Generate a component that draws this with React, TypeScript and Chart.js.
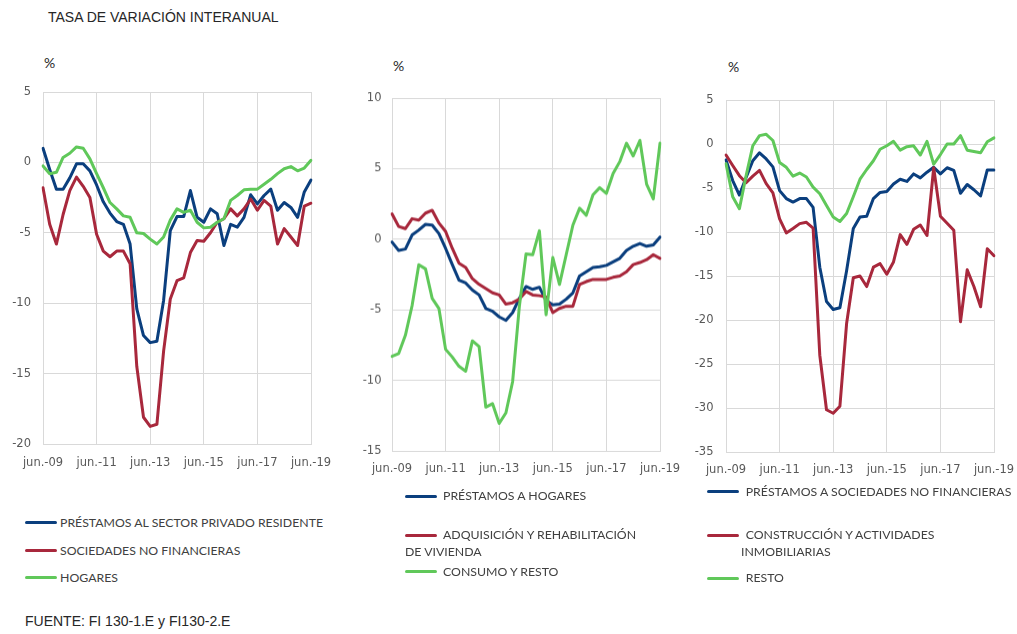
import React, { useEffect, useRef } from "react";
import { Chart, registerables } from "chart.js";

Chart.register(...registerables);

// Quarterly observations, June 2009 – June 2019
const quarters = [
  "jun.-09", "sep.-09", "dic.-09", "mar.-10",
  "jun.-10", "sep.-10", "dic.-10", "mar.-11",
  "jun.-11", "sep.-11", "dic.-11", "mar.-12",
  "jun.-12", "sep.-12", "dic.-12", "mar.-13",
  "jun.-13", "sep.-13", "dic.-13", "mar.-14",
  "jun.-14", "sep.-14", "dic.-14", "mar.-15",
  "jun.-15", "sep.-15", "dic.-15", "mar.-16",
  "jun.-16", "sep.-16", "dic.-16", "mar.-17",
  "jun.-17", "sep.-17", "dic.-17", "mar.-18",
  "jun.-18", "sep.-18", "dic.-18", "mar.-19",
  "jun.-19",
];

// Panel 1: total private resident sector
const privadoResidente = [
  1.0, -0.5, -1.9, -1.9, -1.1, -0.1, -0.1, -0.6, -1.6, -2.8,
  -3.6, -4.2, -4.4, -5.8, -10.4, -12.3, -12.8, -12.7, -9.8, -4.85,
  -3.85, -3.85, -2.0, -3.9, -4.25, -3.3, -3.65, -5.9, -4.4, -4.6,
  -3.9, -2.3, -2.95, -2.35, -1.9, -3.4, -2.85, -3.2, -3.9, -2.1,
  -1.25,
];
const sociedadesNoFinancieras = [
  -1.8, -4.4, -5.8, -3.7, -2.0, -1.05, -1.7, -2.5, -5.1, -6.3,
  -6.7, -6.3, -6.3, -7.2, -14.5, -18.1, -18.75, -18.6, -13.4, -9.7,
  -8.4, -8.2, -6.4, -5.55, -5.6, -5.0, -4.25, -4.0, -3.3, -3.8,
  -3.3, -2.6, -3.4, -2.7, -3.1, -5.8, -4.7, -5.3, -5.9, -3.1,
  -2.9,
];
const hogares = [
  -0.25, -0.8, -0.7, 0.35, 0.65, 1.1, 1.0, 0.25, -0.8, -1.8,
  -2.85, -3.3, -3.8, -3.9, -5.0, -5.05, -5.45, -5.8, -5.3, -4.1,
  -3.3, -3.55, -3.4, -4.25, -4.65, -4.6, -4.25, -4.0, -2.7, -2.35,
  -1.95, -1.9, -1.9, -1.55, -1.2, -0.8, -0.45, -0.3, -0.6, -0.4,
  0.15,
];

// Panel 2: households
const prestamosHogares = [
  -0.2, -0.8, -0.7, 0.3, 0.65, 1.05, 1.0, 0.4, -0.65, -1.8,
  -2.9, -3.1, -3.6, -3.95, -4.9, -5.1, -5.5, -5.75, -5.2, -4.2,
  -3.35, -3.55, -3.4, -4.35, -4.65, -4.6, -4.25, -3.8, -2.6, -2.3,
  -2.0, -1.95, -1.85, -1.6, -1.35, -0.8, -0.5, -0.3, -0.5, -0.4,
  0.15,
];
const vivienda = [
  1.8, 0.9, 0.75, 1.45, 1.35, 1.85, 2.05, 1.15, 0.55, -0.65,
  -1.7, -2.0, -2.8, -3.2, -3.5, -3.8, -3.95, -4.6, -4.5, -4.25,
  -3.7, -3.95, -4.0, -4.1, -5.2, -4.9, -4.75, -4.75, -3.2, -3.0,
  -2.85, -2.85, -2.85, -2.7, -2.6, -2.3, -1.8, -1.65, -1.45, -1.1,
  -1.35,
];
const consumoResto = [
  -8.3, -8.1, -6.8, -4.7, -1.8, -2.1, -4.2, -4.9, -7.8, -8.35,
  -9.0, -9.35, -7.2, -7.6, -11.9, -11.65, -13.05, -12.3, -10.1, -4.8,
  -1.05, -1.1, 0.6, -5.35, -1.3, -3.2, -1.1, 1.0, 2.2, 1.7,
  3.15, 3.65, 3.25, 4.65, 5.5, 6.8, 5.9, 7.0, 3.9, 2.85,
  6.8,
];

// Panel 3: non-financial corporations
const prestamosSnf = [
  -1.8, -4.15, -5.8, -3.8, -1.9, -1.0, -1.7, -2.6, -5.3, -6.2,
  -6.6, -6.2, -6.2, -7.2, -14.0, -17.9, -18.8, -18.6, -14.4, -9.6,
  -8.3, -8.2, -6.2, -5.5, -5.4, -4.55, -4.0, -4.25, -3.4, -3.85,
  -3.2, -2.65, -3.4, -2.7, -3.0, -5.6, -4.6, -5.2, -5.9, -2.95,
  -2.95,
];
const construccion = [
  -1.25, -2.45, -3.6, -4.4, -3.65, -3.0, -4.5, -5.55, -8.5, -10.1,
  -9.6, -9.05, -8.9, -9.55, -24.0, -30.2, -30.6, -29.8, -20.4, -15.2,
  -15.0, -16.2, -14.0, -13.6, -14.8, -13.4, -10.3, -11.4, -9.7, -9.2,
  -10.4, -2.7, -8.2, -9.0, -9.8, -20.2, -14.3, -16.2, -18.5, -11.9,
  -12.7,
];
const resto = [
  -2.25, -6.0, -7.35, -3.6, -0.2, 0.95, 1.1, 0.4, -2.1, -2.65,
  -3.65, -3.3, -3.75, -4.9, -5.65, -7.0, -8.3, -8.8, -7.9, -6.0,
  -4.0, -2.9, -1.9, -0.6, -0.2, 0.3, -0.7, -0.3, -0.2, -1.25,
  0.3, -2.3, -1.2, 0.0, 0.0, 0.95, -0.7, -0.85, -1.0, 0.25,
  0.7,
];

const BLUE = "#0b3f7e";
const RED = "#a8283c";
const GREEN = "#60c85a";
const GRID = "#d9d9d9";
const TICK = "#595959";
const TEXT = "#404040";

// Fixed margins around each plot area (room for tick labels)
const AXIS_W = 46;
const PAD_TOP = 24;
const PAD_RIGHT = 38;
const PAD_BOTTOM = 6;
const X_AXIS_H = 30;

type Series = { label: string; data: number[]; color: string };

type PanelProps = {
  area: { left: number; top: number; right: number; bottom: number };
  yMin: number;
  yMax: number;
  yPad: number;
  xPad: number;
  series: Series[];
};

function Panel(props: PanelProps) {
  const ref = useRef<HTMLCanvasElement | null>(null);
  const { area } = props;
  const left = area.left - AXIS_W;
  const top = area.top - PAD_TOP;
  const width = AXIS_W + (area.right - area.left) + PAD_RIGHT;
  const height = PAD_TOP + (area.bottom - area.top) + X_AXIS_H + PAD_BOTTOM;

  useEffect(() => {
    if (!ref.current) return;
    const tickFont = { family: "'DejaVu Sans', sans-serif", size: 11.5 };
    const chart = new Chart(ref.current, {
      type: "line",
      data: {
        labels: quarters,
        datasets: props.series.map((s, i) => ({
          label: s.label,
          data: s.data,
          borderColor: s.color,
          backgroundColor: s.color,
          borderWidth: 3,
          borderJoinStyle: "round" as const,
          borderCapStyle: "round" as const,
          pointRadius: 0,
          tension: 0,
          fill: false,
          order: props.series.length - i,
        })),
      },
      options: {
        animation: false,
        responsive: false,
        maintainAspectRatio: false,
        layout: {
          padding: { top: PAD_TOP, right: PAD_RIGHT, bottom: PAD_BOTTOM, left: 0 },
        },
        plugins: {
          legend: { display: false },
          tooltip: { enabled: false },
        },
        scales: {
          x: {
            type: "category",
            offset: false,
            grid: { color: GRID, lineWidth: 1, drawTicks: false },
            border: { color: GRID, width: 1 },
            ticks: {
              autoSkip: false,
              maxRotation: 0,
              minRotation: 0,
              padding: props.xPad,
              color: TICK,
              font: tickFont,
              callback: (_v: any, i: number) => (i % 8 === 0 ? quarters[i] : null),
            },
            afterFit: (scale: any) => {
              scale.height = X_AXIS_H;
            },
          },
          y: {
            min: props.yMin,
            max: props.yMax,
            grid: { color: GRID, lineWidth: 1, drawTicks: false },
            border: { color: GRID, width: 1 },
            ticks: {
              stepSize: 5,
              padding: props.yPad,
              color: TICK,
              font: tickFont,
            },
            afterFit: (scale: any) => {
              scale.width = AXIS_W;
            },
          },
        },
      },
    });
    return () => chart.destroy();
  }, []);

  return (
    <canvas
      ref={ref}
      width={width}
      height={height}
      style={{ position: "absolute", left, top, width, height }}
    />
  );
}

type LegendRow = {
  color: string;
  y: number;
  lines: string[];
  wrapX?: number;
};

function Legend({ x, textX, rows }: { x: number; textX: number; rows: LegendRow[] }) {
  const font = "Lato, 'Open Sans', sans-serif";
  const textStyle = {
    position: "absolute" as const,
    height: 14,
    lineHeight: "14px",
    fontFamily: font,
    fontSize: 12.3,
    color: TEXT,
    whiteSpace: "nowrap" as const,
  };
  return (
    <>
      {rows.map((r, i) => (
        <React.Fragment key={i}>
          <div
            style={{
              position: "absolute",
              left: x,
              top: r.y - 1.5,
              width: 32,
              height: 3,
              background: r.color,
              borderRadius: 1.5,
            }}
          />
          <div style={{ ...textStyle, left: textX, top: r.y - 7 }}>{r.lines[0]}</div>
          {r.lines.slice(1).map((l, j) => (
            <div
              key={j}
              style={{ ...textStyle, left: r.wrapX ?? textX, top: r.y - 7 + 17.3 * (j + 1) }}
            >
              {l}
            </div>
          ))}
        </React.Fragment>
      ))}
    </>
  );
}

function Label({ x, y, text, size, family }: { x: number; y: number; text: string; size: number; family: string }) {
  return (
    <div
      style={{
        position: "absolute",
        left: x,
        top: y,
        fontFamily: family,
        fontSize: size,
        lineHeight: `${size}px`,
        color: "#262626",
        whiteSpace: "nowrap",
      }}
    >
      {text}
    </div>
  );
}

export default function App() {
  const panel1: Series[] = [
    { label: "PRÉSTAMOS AL SECTOR PRIVADO RESIDENTE", data: privadoResidente, color: BLUE },
    { label: "SOCIEDADES NO FINANCIERAS", data: sociedadesNoFinancieras, color: RED },
    { label: "HOGARES", data: hogares, color: GREEN },
  ];
  const panel2: Series[] = [
    { label: "PRÉSTAMOS A HOGARES", data: prestamosHogares, color: BLUE },
    { label: "ADQUISICIÓN Y REHABILITACIÓN DE VIVIENDA", data: vivienda, color: RED },
    { label: "CONSUMO Y RESTO", data: consumoResto, color: GREEN },
  ];
  const panel3: Series[] = [
    { label: "PRÉSTAMOS A SOCIEDADES NO FINANCIERAS", data: prestamosSnf, color: BLUE },
    { label: "CONSTRUCCIÓN Y ACTIVIDADES INMOBILIARIAS", data: construccion, color: RED },
    { label: "RESTO", data: resto, color: GREEN },
  ];

  const sans = "'Liberation Sans', Arial, sans-serif";
  const pct = "Lato, 'Open Sans', sans-serif";

  return (
    <div
      style={{
        position: "absolute",
        left: 0,
        top: 0,
        width: 1017,
        height: 634,
        background: "#ffffff",
        overflow: "hidden",
      }}
    >
      <Label x={48} y={10} text="TASA DE VARIACIÓN INTERANUAL" size={14} family={sans} />
      <Label x={44} y={56} text="%" size={14} family={pct} />
      <Label x={393} y={59} text="%" size={14} family={pct} />
      <Label x={728} y={60} text="%" size={14} family={pct} />

      <Panel
        area={{ left: 42.7, top: 91.7, right: 310.7, bottom: 443.7 }}
        yMin={-20}
        yMax={5}
        yPad={12}
        xPad={12.4}
        series={panel1}
      />
      <Panel
        area={{ left: 391.7, top: 98.3, right: 660, bottom: 450.8 }}
        yMin={-15}
        yMax={10}
        yPad={10.5}
        xPad={11.6}
        series={panel2}
      />
      <Panel
        area={{ left: 725.7, top: 100, right: 994, bottom: 452 }}
        yMin={-35}
        yMax={5}
        yPad={12.5}
        xPad={11.4}
        series={panel3}
      />

      <Legend
        x={25}
        textX={60}
        rows={[
          { color: BLUE, y: 522.7, lines: [panel1[0].label] },
          { color: RED, y: 550.7, lines: [panel1[1].label] },
          { color: GREEN, y: 577.7, lines: [panel1[2].label] },
        ]}
      />
      <Legend
        x={405}
        textX={443}
        rows={[
          { color: BLUE, y: 496, lines: [panel2[0].label] },
          { color: RED, y: 535, lines: ["ADQUISICIÓN Y REHABILITACIÓN", "DE VIVIENDA"], wrapX: 405 },
          { color: GREEN, y: 571.7, lines: [panel2[2].label] },
        ]}
      />
      <Legend
        x={707}
        textX={745.7}
        rows={[
          { color: BLUE, y: 491.7, lines: [panel3[0].label] },
          { color: RED, y: 535, lines: ["CONSTRUCCIÓN Y ACTIVIDADES", "INMOBILIARIAS"], wrapX: 741 },
          { color: GREEN, y: 578.3, lines: [panel3[2].label] },
        ]}
      />

      <Label x={25} y={614} text="FUENTE: FI 130-1.E y FI130-2.E" size={14} family={sans} />
    </div>
  );
}
